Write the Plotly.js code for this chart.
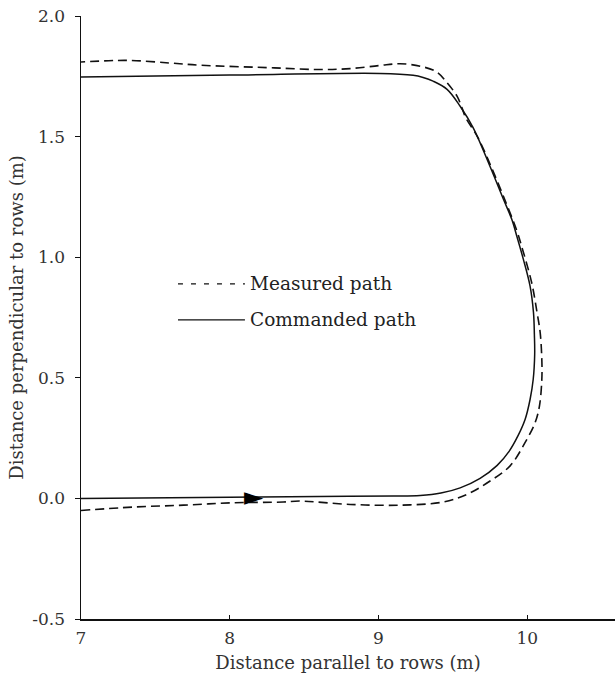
<!DOCTYPE html>
<html>
<head>
<meta charset="utf-8">
<script src="https://cdn.plot.ly/plotly-3.0.1.min.js"></script>
<style>html,body{margin:0;padding:0;background:#fff;}#chart{width:615px;height:680px;}</style>
</head>
<body>
<div id="chart"></div>
<script>
// Commanded path (m)
const commandedX = [7.0, 8.0, 8.8, 9.1, 9.28, 9.42, 9.549, 9.683, 9.798, 9.878, 9.939, 9.986, 10.019, 10.040, 10.050, 10.048, 10.042, 10.019, 9.974, 9.93, 9.896, 9.84, 9.75, 9.636, 9.549, 9.461, 9.367, 9.3, 9.233, 9.01, 8.0, 7.0];
const commandedY = [0.0, 0.005, 0.009, 0.01, 0.012, 0.022, 0.0435, 0.083, 0.137, 0.195, 0.261, 0.328, 0.410, 0.493, 0.597, 0.680, 0.770, 0.880, 0.991, 1.087, 1.157, 1.24, 1.376, 1.537, 1.626, 1.696, 1.730, 1.745, 1.754, 1.762, 1.755, 1.747];
// Measured path (m)
const measuredX = [7.0, 7.35, 7.69, 8.02, 8.36, 8.47, 8.81, 9.145, 9.434, 9.596, 9.75, 9.885, 9.985, 10.053, 10.082, 10.098, 10.098, 10.087, 10.066, 10.03, 9.962, 9.93, 9.848, 9.757, 9.665, 9.585, 9.56, 9.528, 9.461, 9.394, 9.28, 9.145, 9.01, 8.81, 8.6, 8.3, 7.8, 7.6, 7.31, 7.0];
const measuredY = [-0.05, -0.036, -0.028, -0.018, -0.015, -0.011, -0.025, -0.028, -0.015, 0.017, 0.072, 0.135, 0.231, 0.314, 0.383, 0.493, 0.576, 0.687, 0.770, 0.894, 1.046, 1.11, 1.24, 1.376, 1.50, 1.58, 1.621, 1.668, 1.723, 1.767, 1.792, 1.802, 1.795, 1.782, 1.778, 1.785, 1.796, 1.805, 1.816, 1.809];
// Direction arrow
const arrowX = [8.16];
const arrowY = [0.0];
const xTicks = [7, 8, 9, 10];
const yTicks = [-0.5, 0.0, 0.5, 1.0, 1.5, 2.0];
const yTickText = ['-0.5', '0.0', '0.5', '1.0', '1.5', '2.0'];
const legendNames = ['Measured path', 'Commanded path'];

const serif = 'DejaVu Serif, Liberation Serif, serif';

const traces = [
  {x: measuredX, y: measuredY, mode: 'lines', name: legendNames[0],
   line: {color: '#111', width: 1.6, dash: '9px,5px', shape: 'spline', smoothing: 1.0}},
  {x: commandedX, y: commandedY, mode: 'lines', name: legendNames[1],
   line: {color: '#111', width: 1.5, shape: 'spline', smoothing: 1.0}},
  {x: arrowX, y: arrowY, mode: 'text', text: ['\u25BA'], textposition: 'middle center',
   textfont: {family: 'DejaVu Sans', size: 25, color: '#000'}, hoverinfo: 'skip'}
];

const legY = [0.5556, 0.4959];
const layout = {
  width: 615, height: 680,
  margin: {l: 81, r: 0, t: 16, b: 61},
  paper_bgcolor: '#fff', plot_bgcolor: '#fff',
  showlegend: false,
  font: {family: serif, size: 17, color: '#333'},
  xaxis: {
    range: [7, 10.59], tickvals: xTicks, ticktext: xTicks.map(String),
    showgrid: false, zeroline: false, showline: true, linecolor: '#111', linewidth: 1.5,
    ticks: 'inside', ticklen: 4, tickcolor: '#111', ticklabelstandoff: 3,
    tickfont: {family: serif, size: 17, color: '#333'},
    title: {text: 'Distance parallel to rows (m)', font: {family: serif, size: 18, color: '#333'}, standoff: 9}
  },
  yaxis: {
    range: [-0.5, 2.0], tickvals: yTicks, ticktext: yTickText,
    showgrid: false, zeroline: false, showline: true, linecolor: '#111', linewidth: 1.5,
    ticks: 'outside', ticklen: 5, tickcolor: '#111', ticklabelstandoff: 6,
    tickfont: {family: serif, size: 17, color: '#333'},
    title: {text: 'Distance perpendicular to rows (m)', font: {family: serif, size: 18, color: '#333'}, standoff: 4}
  },
  shapes: [
    {type: 'line', xref: 'paper', yref: 'paper', x0: 0.1816, x1: 0.307, y0: legY[0], y1: legY[0],
     line: {color: '#111', width: 1.3, dash: '5px,8px'}},
    {type: 'line', xref: 'paper', yref: 'paper', x0: 0.1816, x1: 0.307, y0: legY[1], y1: legY[1],
     line: {color: '#111', width: 1.3}}
  ],
  annotations: [
    {xref: 'paper', yref: 'paper', x: 0.312, y: legY[0], xanchor: 'left', yanchor: 'middle',
     text: legendNames[0], showarrow: false, font: {family: serif, size: 18.5, color: '#222'}},
    {xref: 'paper', yref: 'paper', x: 0.312, y: legY[1], xanchor: 'left', yanchor: 'middle',
     text: legendNames[1], showarrow: false, font: {family: serif, size: 18.5, color: '#222'}}
  ]
};

Plotly.newPlot('chart', traces, layout, {displayModeBar: false, staticPlot: true});
</script>
</body>
</html>
